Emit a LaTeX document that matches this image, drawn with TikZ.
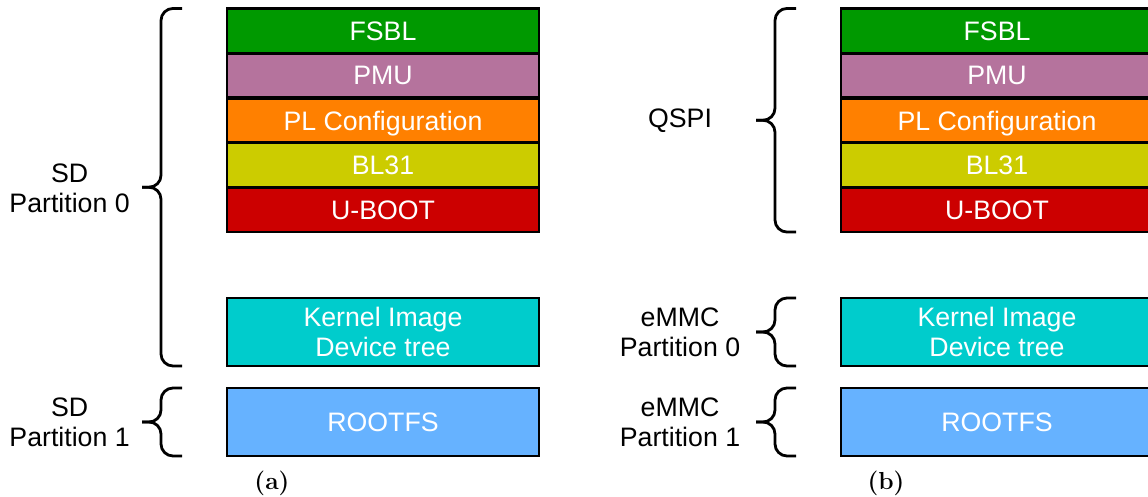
\documentclass[tikz,border=0pt]{standalone}
\usepackage{fontspec}
\setsansfont{Liberation Sans}
\usetikzlibrary{calc}
\definecolor{fsblgreen}{HTML}{009900}
\definecolor{pmupink}{HTML}{B5739D}
\definecolor{plorange}{HTML}{FF8000}
\definecolor{blyellow}{HTML}{CCCC00}
\definecolor{ubootred}{HTML}{CC0000}
\definecolor{kerncyan}{HTML}{00CCCC}
\definecolor{rootblue}{HTML}{66B2FF}
% curly brace left of a stack of boxes: #1 top box, #2 bottom box
\newcommand{\membrace}[2]{%
  \coordinate (bt) at ([xshift=-1.125cm]#1.north west);
  \coordinate (bb) at ([xshift=-1.125cm]#2.south west);
  \coordinate (bm) at ($(bt)!0.5!(bb)+(-0.525,0)$);
  \draw[brc] (bt) -| (bm) -- ++(-0.475,0);
  \draw[brc] (bb) -| (bm) -- ++(-0.475,0);
}

\begin{document}
\begin{tikzpicture}[
  blk/.style={draw=black, fill=#1, line width=2pt, inner sep=0pt, outer sep=0pt,
              minimum width=7.8cm, minimum height=1.115cm, text depth=0pt,
              text=white, font=\sffamily\fontsize{19}{21.5}\selectfont, align=center},
  tall/.style={minimum height=1.7cm},
  lbl/.style={font=\sffamily\fontsize{19}{21.5}\selectfont, align=center},
  subcap/.style={font=\rmfamily\bfseries\fontsize{17.5}{19}\selectfont},
  brc/.style={line width=2pt, rounded corners=0.3cm}
]
\useasboundingbox (0,0) rectangle (28.7,-12.425);

%% (a) boot from SD card
\node[blk=fsblgreen]      (fsblA) at (9.575,-0.769)  {FSBL};
\node[blk=pmupink]        (pmuA)  at (9.575,-1.8875) {PMU};
\node[blk=plorange]       (plA)   at (9.575,-3.0125) {PL Configuration};
\node[blk=blyellow]       (blA)   at (9.575,-4.131)  {BL31};
\node[blk=ubootred]       (ubA)   at (9.575,-5.244)  {U-BOOT};
\node[blk=kerncyan, tall] (kernA) at (9.575,-8.3)    {Kernel Image\\Device tree};
\node[blk=rootblue, tall] (rootA) at (9.575,-10.55)  {ROOTFS};

%% (b) boot from QSPI + eMMC
\node[blk=fsblgreen]      (fsblB) at (24.925,-0.769)  {FSBL};
\node[blk=pmupink]        (pmuB)  at (24.925,-1.8875) {PMU};
\node[blk=plorange]       (plB)   at (24.925,-3.0125) {PL Configuration};
\node[blk=blyellow]       (blB)   at (24.925,-4.131)  {BL31};
\node[blk=ubootred]       (ubB)   at (24.925,-5.244)  {U-BOOT};
\node[blk=kerncyan, tall] (kernB) at (24.925,-8.3)    {Kernel Image\\Device tree};
\node[blk=rootblue, tall] (rootB) at (24.925,-10.55)  {ROOTFS};

%% Braces
\membrace{fsblA}{kernA}
\membrace{rootA}{rootA}
\membrace{fsblB}{ubB}
\membrace{kernB}{kernB}
\membrace{rootB}{rootB}

%% Brace labels
\node[lbl] (sdzero)   at (1.74,-4.7)   {SD\\Partition 0};
\node[lbl] (sdone)    at (1.74,-10.55) {SD\\Partition 1};
\node[lbl] (qspi)     at (17.0,-3.03)  {QSPI};
\node[lbl] (emmczero) at (17.0,-8.3)   {eMMC\\Partition 0};
\node[lbl] (emmcone)  at (17.0,-10.55) {eMMC\\Partition 1};

%% Sub captions
\node[subcap] (capA) at (6.8,-12.075)  {(a)};
\node[subcap] (capB) at (22.15,-12.075) {(b)};

\end{tikzpicture}
\end{document}
